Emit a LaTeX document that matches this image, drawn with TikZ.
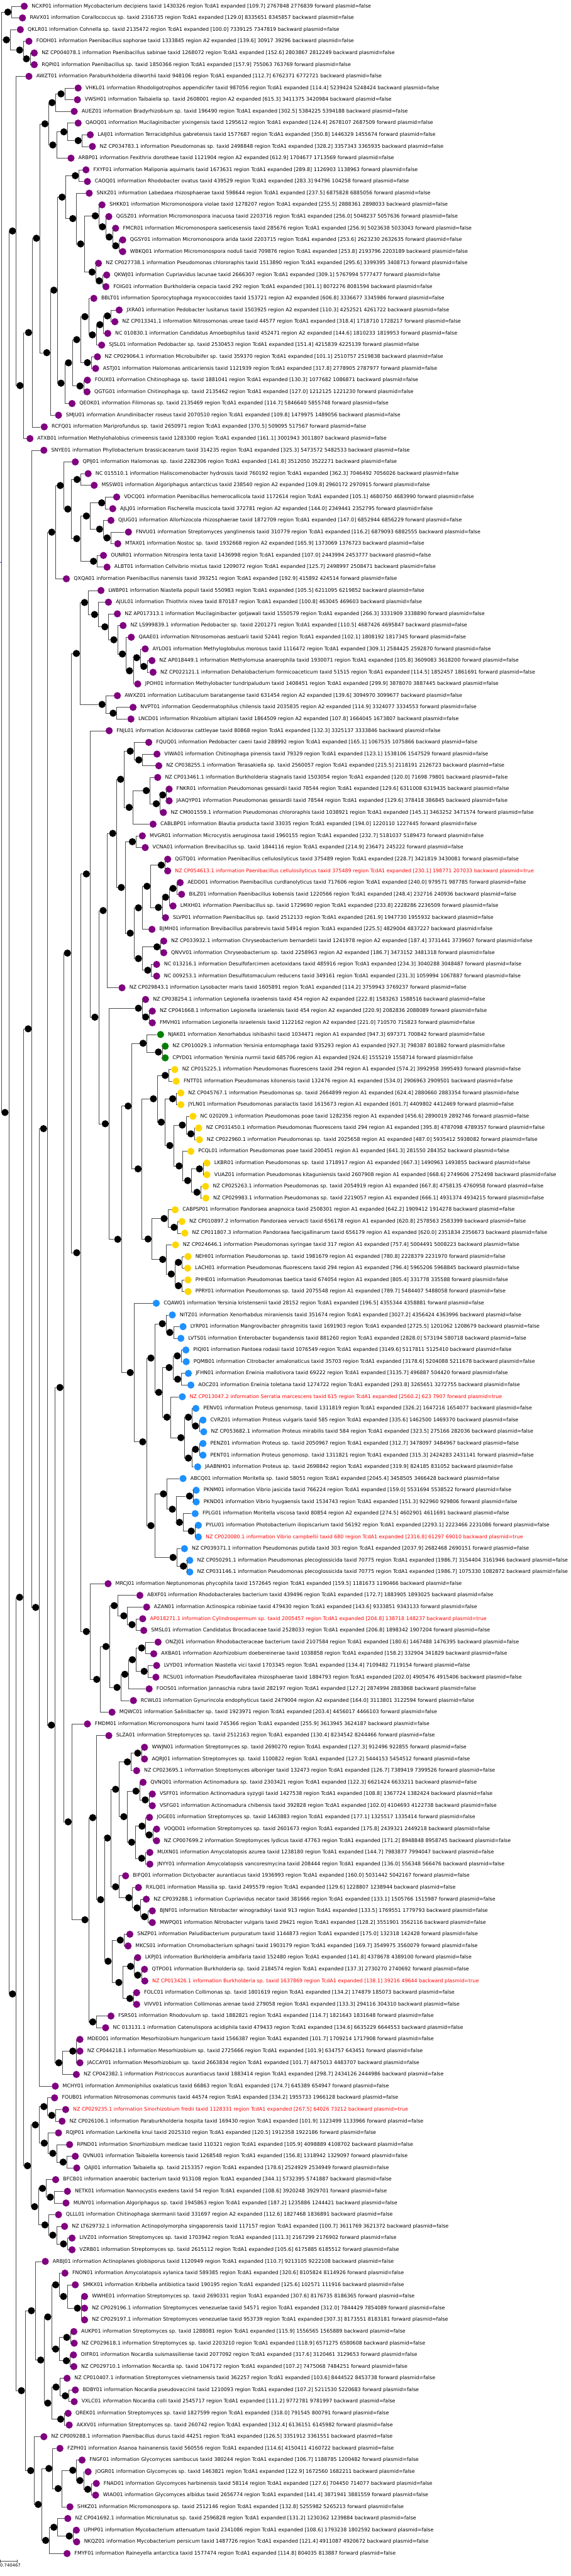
\documentclass[tikz,border=0pt]{standalone}
\usepackage{fontspec}
\setmainfont{DejaVu Sans}
\usepackage{tikz}
\usetikzlibrary{positioning}
\definecolor{cLeaf}{HTML}{800080}
\definecolor{cA1}{HTML}{008000}
\definecolor{cPseu}{HTML}{FFD700}
\definecolor{cTcd}{HTML}{1E90FF}
\definecolor{cPlas}{HTML}{FF0000}
\definecolor{cRoot}{HTML}{0030C1}
\definecolor{cBranch}{HTML}{4D4D4D}
\tikzset{
  leaf/.style={circle, fill=#1, inner sep=0pt, minimum size=10pt},
  leaf/.default=cLeaf,
  fork/.style={circle, fill=black, inner sep=0pt, minimum size=10pt},
  rootdot/.style={circle, fill=cRoot, inner sep=0pt, minimum size=1.5pt},
  lbl/.style={font=\fontsize{7}{8.4}\selectfont, inner sep=0pt, text=black},
  hot/.style={lbl, text=cPlas},
  scl/.style={font=\fontsize{6}{7}\selectfont, inner sep=0pt},
  br/.style={draw=cBranch, line width=0.5pt},
}
\begin{document}
\begin{tikzpicture}[x=0.5pt, y=-16.375pt]
  \useasboundingbox (0,0.4656) rectangle (1600,220.9237);
  \node[leaf] (l1) at (68,1) {};
  \node[lbl, right=5pt of l1] (t1) {NCXP01 information Mycobacterium decipiens taxid 1430326 region TcdA1 expanded [109.7] 2767848 2776839 forward plasmid=false};
  \node[leaf] (l2) at (63,2) {};
  \node[lbl, right=5pt of l2] (t2) {RAVX01 information Corallococcus sp. taxid 2316735 region TcdA1 expanded [129.0] 8335651 8345857 backward plasmid=false};
  \node[leaf] (l3) at (57,3) {};
  \node[lbl, right=5pt of l3] (t3) {QKLR01 information Cohnella sp. taxid 2135472 region TcdA1 expanded [100.0] 7339125 7347819 backward plasmid=false};
  \node[leaf] (l4) at (81,4) {};
  \node[lbl, right=5pt of l4] (t4) {FODH01 information Paenibacillus sophorae taxid 1333845 region A2 expanded [139.6] 30917 39296 backward plasmid=false};
  \node[leaf] (l5) at (96,5) {};
  \node[lbl, right=5pt of l5] (t5) {NZ CP004078.1 information Paenibacillus sabinae taxid 1268072 region TcdA1 expanded [152.6] 2803867 2812249 backward plasmid=false};
  \node[leaf] (l6) at (96,6) {};
  \node[lbl, right=5pt of l6] (t6) {RQPI01 information Paenibacillus sp. taxid 1850366 region TcdA1 expanded [157.9] 755063 763769 forward plasmid=false};
  \node[leaf] (l7) at (81,7) {};
  \node[lbl, right=5pt of l7] (t7) {AWZT01 information Paraburkholderia dilworthii taxid 948106 region TcdA1 expanded [112.7] 6762371 6772721 backward plasmid=false};
  \node[leaf] (l8) at (219,8) {};
  \node[lbl, right=5pt of l8] (t8) {VHKL01 information Rhodoligotrophos appendicifer taxid 987056 region TcdA1 expanded [114.4] 5239424 5248424 backward plasmid=false};
  \node[leaf] (l9) at (217,9) {};
  \node[lbl, right=5pt of l9] (t9) {VWSH01 information Taibaiella sp. taxid 2608001 region A2 expanded [615.3] 3411375 3420984 backward plasmid=false};
  \node[leaf] (l10) at (208,10) {};
  \node[lbl, right=5pt of l10] (t10) {AUEZ01 information Bradyrhizobium sp. taxid 196490 region TcdA1 expanded [302.5] 5384225 5394188 backward plasmid=false};
  \node[leaf] (l11) at (219,11) {};
  \node[lbl, right=5pt of l11] (t11) {QAOQ01 information Mucilaginibacter yixingensis taxid 1295612 region TcdA1 expanded [124.4] 2678107 2687509 forward plasmid=false};
  \node[leaf] (l12) at (253,12) {};
  \node[lbl, right=5pt of l12] (t12) {LAIJ01 information Terracidiphilus gabretensis taxid 1577687 region TcdA1 expanded [350.8] 1446329 1455674 forward plasmid=false};
  \node[leaf] (l13) at (259,13) {};
  \node[lbl, right=5pt of l13] (t13) {NZ CP034783.1 information Pseudomonas sp. taxid 2498848 region TcdA1 expanded [328.2] 3357343 3365935 backward plasmid=false};
  \node[leaf] (l14) at (199,14) {};
  \node[lbl, right=5pt of l14] (t14) {ARBP01 information Fexithrix dorotheae taxid 1121904 region A2 expanded [612.9] 1704677 1713569 forward plasmid=false};
  \node[leaf] (l15) at (241,15) {};
  \node[lbl, right=5pt of l15] (t15) {FXYF01 information Maliponia aquimaris taxid 1673631 region TcdA1 expanded [289.8] 1126903 1138963 forward plasmid=false};
  \node[leaf] (l16) at (245,16) {};
  \node[lbl, right=5pt of l16] (t16) {CAOQ01 information Rhodobacter ovatus taxid 439529 region TcdA1 expanded [283.3] 94796 104258 forward plasmid=false};
  \node[leaf] (l17) at (250,17) {};
  \node[lbl, right=5pt of l17] (t17) {SNXZ01 information Labedaea rhizosphaerae taxid 598644 region TcdA1 expanded [237.5] 6875828 6885056 forward plasmid=false};
  \node[leaf] (l18) at (286,18) {};
  \node[lbl, right=5pt of l18] (t18) {SHKK01 information Micromonospora violae taxid 1278207 region TcdA1 expanded [255.5] 2888361 2898033 backward plasmid=false};
  \node[leaf] (l19) at (305,19) {};
  \node[lbl, right=5pt of l19] (t19) {QGSZ01 information Micromonospora inacuosa taxid 2203716 region TcdA1 expanded [256.0] 5048237 5057636 forward plasmid=false};
  \node[leaf] (l20) at (324,20) {};
  \node[lbl, right=5pt of l20] (t20) {FMCR01 information Micromonospora saelicesensis taxid 285676 region TcdA1 expanded [256.9] 5023638 5033043 forward plasmid=false};
  \node[leaf] (l21) at (344,21) {};
  \node[lbl, right=5pt of l21] (t21) {QGSY01 information Micromonospora arida taxid 2203715 region TcdA1 expanded [253.6] 2623230 2632635 forward plasmid=false};
  \node[leaf] (l22) at (344,22) {};
  \node[lbl, right=5pt of l22] (t22) {WBKQ01 information Micromonospora noduli taxid 709876 region TcdA1 expanded [253.8] 2193796 2203189 backward plasmid=false};
  \node[leaf] (l23) at (276,23) {};
  \node[lbl, right=5pt of l23] (t23) {NZ CP027738.1 information Pseudomonas chlororaphis taxid 1513890 region TcdA1 expanded [295.6] 3399395 3408713 forward plasmid=false};
  \node[leaf] (l24) at (299,24) {};
  \node[lbl, right=5pt of l24] (t24) {QKWJ01 information Cupriavidus lacunae taxid 2666307 region TcdA1 expanded [309.1] 5767994 5777477 forward plasmid=false};
  \node[leaf] (l25) at (297,25) {};
  \node[lbl, right=5pt of l25] (t25) {FOIG01 information Burkholderia cepacia taxid 292 region TcdA1 expanded [301.1] 8072276 8081594 backward plasmid=false};
  \node[leaf] (l26) at (263,26) {};
  \node[lbl, right=5pt of l26] (t26) {BBLT01 information Sporocytophaga myxococcoides taxid 153721 region A2 expanded [606.8] 3336677 3345986 forward plasmid=false};
  \node[leaf] (l27) at (334,27) {};
  \node[lbl, right=5pt of l27] (t27) {JXRA01 information Pedobacter lusitanus taxid 1503925 region A2 expanded [110.3] 4252521 4261722 backward plasmid=false};
  \node[leaf] (l28) at (322,28) {};
  \node[lbl, right=5pt of l28] (t28) {NZ CP013341.1 information Nitrosomonas ureae taxid 44577 region TcdA1 expanded [318.4] 1718710 1728217 forward plasmid=false};
  \node[leaf] (l29) at (302,29) {};
  \node[lbl, right=5pt of l29] (t29) {NC 010830.1 information Candidatus Amoebophilus taxid 452471 region A2 expanded [144.6] 1810233 1819953 forward plasmid=false};
  \node[leaf] (l30) at (285,30) {};
  \node[lbl, right=5pt of l30] (t30) {SJSL01 information Pedobacter sp. taxid 2530453 region TcdA1 expanded [151.4] 4215839 4225139 forward plasmid=false};
  \node[leaf] (l31) at (273,31) {};
  \node[lbl, right=5pt of l31] (t31) {NZ CP029064.1 information Microbulbifer sp. taxid 359370 region TcdA1 expanded [101.1] 2510757 2519838 backward plasmid=false};
  \node[leaf] (l32) at (268,32) {};
  \node[lbl, right=5pt of l32] (t32) {ASTJ01 information Halomonas anticariensis taxid 1121939 region TcdA1 expanded [317.8] 2778905 2787977 forward plasmid=false};
  \node[leaf] (l33) at (245,33) {};
  \node[lbl, right=5pt of l33] (t33) {FOUX01 information Chitinophaga sp. taxid 1881041 region TcdA1 expanded [130.3] 1077682 1086871 backward plasmid=false};
  \node[leaf] (l34) at (244,34) {};
  \node[lbl, right=5pt of l34] (t34) {QGTG01 information Chitinophaga sp. taxid 2135462 region TcdA1 expanded [127.0] 1212125 1221230 forward plasmid=false};
  \node[leaf] (l35) at (202,35) {};
  \node[lbl, right=5pt of l35] (t35) {QEOK01 information Filimonas sp. taxid 2135469 region TcdA1 expanded [114.7] 5846640 5855748 forward plasmid=false};
  \node[leaf] (l36) at (164,36) {};
  \node[lbl, right=5pt of l36] (t36) {SMJU01 information Arundinibacter roseus taxid 2070510 region TcdA1 expanded [109.8] 1479975 1489056 backward plasmid=false};
  \node[leaf] (l37) at (124,37) {};
  \node[lbl, right=5pt of l37] (t37) {RCFQ01 information Mariprofundus sp. taxid 2650971 region TcdA1 expanded [370.5] 509095 517567 forward plasmid=false};
  \node[leaf] (l38) at (84,38) {};
  \node[lbl, right=5pt of l38] (t38) {ATXB01 information Methylohalobius crimeensis taxid 1283300 region TcdA1 expanded [161.1] 3001943 3011807 backward plasmid=false};
  \node[leaf] (l39) at (123,39) {};
  \node[lbl, right=5pt of l39] (t39) {SNYE01 information Phyllobacterium brassicacearum taxid 314235 region TcdA1 expanded [325.3] 5473572 5482533 backward plasmid=false};
  \node[leaf] (l40) at (211,40) {};
  \node[lbl, right=5pt of l40] (t40) {QPIJ01 information Halomonas sp. taxid 2282306 region TcdA1 expanded [141.8] 3512050 3522271 backward plasmid=false};
  \node[leaf] (l41) at (247,41) {};
  \node[lbl, right=5pt of l41] (t41) {NC 015510.1 information Haliscomenobacter hydrossis taxid 760192 region TcdA1 expanded [362.3] 7046492 7056026 backward plasmid=false};
  \node[leaf] (l42) at (264,42) {};
  \node[lbl, right=5pt of l42] (t42) {MSSW01 information Algoriphagus antarcticus taxid 238540 region A2 expanded [109.8] 2960172 2970915 forward plasmid=false};
  \node[leaf] (l43) at (327,43) {};
  \node[lbl, right=5pt of l43] (t43) {VDCQ01 information Paenibacillus hemerocallicola taxid 1172614 region TcdA1 expanded [105.1] 4680750 4683990 forward plasmid=false};
  \node[leaf] (l44) at (316,44) {};
  \node[lbl, right=5pt of l44] (t44) {AJLJ01 information Fischerella muscicola taxid 372781 region A2 expanded [144.0] 2349441 2352795 forward plasmid=false};
  \node[leaf] (l45) at (311,45) {};
  \node[lbl, right=5pt of l45] (t45) {QJUG01 information Allorhizocola rhizosphaerae taxid 1872709 region TcdA1 expanded [147.0] 6852944 6856229 forward plasmid=false};
  \node[leaf] (l46) at (360,46) {};
  \node[lbl, right=5pt of l46] (t46) {FNVU01 information Streptomyces yanglinensis taxid 310779 region TcdA1 expanded [116.2] 6879093 6882555 backward plasmid=false};
  \node[leaf] (l47) at (330,47) {};
  \node[lbl, right=5pt of l47] (t47) {MTAX01 information Nostoc sp. taxid 1932668 region A2 expanded [165.9] 1373069 1376723 backward plasmid=false};
  \node[leaf] (l48) at (290,48) {};
  \node[lbl, right=5pt of l48] (t48) {OUNR01 information Nitrospira lenta taxid 1436998 region TcdA1 expanded [107.0] 2443994 2453777 backward plasmid=false};
  \node[leaf] (l49) at (300,49) {};
  \node[lbl, right=5pt of l49] (t49) {ALBT01 information Cellvibrio mixtus taxid 1209072 region TcdA1 expanded [125.7] 2498997 2508471 backward plasmid=false};
  \node[leaf] (l50) at (186,50) {};
  \node[lbl, right=5pt of l50] (t50) {QXQA01 information Paenibacillus nanensis taxid 393251 region TcdA1 expanded [192.9] 415892 424514 forward plasmid=false};
  \node[leaf] (l51) at (283,51) {};
  \node[lbl, right=5pt of l51] (t51) {LWBP01 information Niastella populi taxid 550983 region TcdA1 expanded [105.5] 6211095 6219852 backward plasmid=false};
  \node[leaf] (l52) at (304,52) {};
  \node[lbl, right=5pt of l52] (t52) {AJUL01 information Thiothrix nivea taxid 870187 region TcdA1 expanded [100.8] 463045 469603 backward plasmid=false};
  \node[leaf] (l53) at (329,53) {};
  \node[lbl, right=5pt of l53] (t53) {NZ AP017313.1 information Mucilaginibacter gotjawali taxid 1550579 region TcdA1 expanded [266.3] 3331909 3338890 forward plasmid=false};
  \node[leaf] (l54) at (345,54) {};
  \node[lbl, right=5pt of l54] (t54) {NZ LS999839.1 information Pedobacter sp. taxid 2201271 region TcdA1 expanded [110.5] 4687426 4695847 backward plasmid=false};
  \node[leaf] (l55) at (368,55) {};
  \node[lbl, right=5pt of l55] (t55) {QAAE01 information Nitrosomonas aestuarii taxid 52441 region TcdA1 expanded [102.1] 1808192 1817345 forward plasmid=false};
  \node[leaf] (l56) at (407,56) {};
  \node[lbl, right=5pt of l56] (t56) {AYLO01 information Methyloglobulus morosus taxid 1116472 region TcdA1 expanded [309.1] 2584425 2592870 forward plasmid=false};
  \node[leaf] (l57) at (426,57) {};
  \node[lbl, right=5pt of l57] (t57) {NZ AP018449.1 information Methylomusa anaerophila taxid 1930071 region TcdA1 expanded [105.8] 3609083 3618200 forward plasmid=false};
  \node[leaf] (l58) at (429,58) {};
  \node[lbl, right=5pt of l58] (t58) {NZ CP022121.1 information Dehalobacterium formicoaceticum taxid 51515 region TcdA1 expanded [114.5] 1852457 1861691 forward plasmid=false};
  \node[leaf] (l59) at (386,59) {};
  \node[lbl, right=5pt of l59] (t59) {JPOH01 information Methylobacter tundripaludum taxid 1408451 region TcdA1 expanded [299.9] 3878070 3887445 backward plasmid=false};
  \node[leaf] (l60) at (329,60) {};
  \node[lbl, right=5pt of l60] (t60) {AWXZ01 information Lutibaculum baratangense taxid 631454 region A2 expanded [139.6] 3094970 3099677 backward plasmid=false};
  \node[leaf] (l61) at (373,61) {};
  \node[lbl, right=5pt of l61] (t61) {NVPT01 information Geodermatophilus chilensis taxid 2035835 region A2 expanded [114.9] 3324077 3334553 forward plasmid=false};
  \node[leaf] (l62) at (367,62) {};
  \node[lbl, right=5pt of l62] (t62) {LNCD01 information Rhizobium altiplani taxid 1864509 region A2 expanded [107.8] 1664045 1673807 backward plasmid=false};
  \node[leaf] (l63) at (306,63) {};
  \node[lbl, right=5pt of l63] (t63) {FNJL01 information Acidovorax cattleyae taxid 80868 region TcdA1 expanded [132.3] 3325137 3333846 backward plasmid=false};
  \node[leaf] (l64) at (417,64) {};
  \node[lbl, right=5pt of l64] (t64) {FQUQ01 information Pedobacter caeni taxid 288992 region TcdA1 expanded [165.1] 1067535 1075866 backward plasmid=false};
  \node[leaf] (l65) at (440,65) {};
  \node[lbl, right=5pt of l65] (t65) {VIWA01 information Chitinophaga pinensis taxid 79329 region TcdA1 expanded [123.1] 1538106 1547529 forward plasmid=false};
  \node[leaf] (l66) at (445,66) {};
  \node[lbl, right=5pt of l66] (t66) {NZ CP038255.1 information Terasakiella sp. taxid 2560057 region TcdA1 expanded [215.5] 2118191 2126723 backward plasmid=false};
  \node[leaf] (l67) at (442,67) {};
  \node[lbl, right=5pt of l67] (t67) {NZ CP013461.1 information Burkholderia stagnalis taxid 1503054 region TcdA1 expanded [120.0] 71698 79801 backward plasmid=false};
  \node[leaf] (l68) at (474,68) {};
  \node[lbl, right=5pt of l68] (t68) {FNKR01 information Pseudomonas gessardii taxid 78544 region TcdA1 expanded [129.6] 6311008 6319435 backward plasmid=false};
  \node[leaf] (l69) at (474,69) {};
  \node[lbl, right=5pt of l69] (t69) {JAAQYP01 information Pseudomonas gessardii taxid 78544 region TcdA1 expanded [129.6] 378418 386845 backward plasmid=false};
  \node[leaf] (l70) at (458,70) {};
  \node[lbl, right=5pt of l70] (t70) {NZ CM001559.1 information Pseudomonas chlororaphis taxid 1038921 region TcdA1 expanded [145.1] 3463252 3471574 forward plasmid=false};
  \node[leaf] (l71) at (429,71) {};
  \node[lbl, right=5pt of l71] (t71) {CABLBP01 information Blautia producta taxid 33035 region TcdA1 expanded [194.0] 1220110 1227445 forward plasmid=false};
  \node[leaf] (l72) at (399,72) {};
  \node[lbl, right=5pt of l72] (t72) {MVGR01 information Microcystis aeruginosa taxid 1960155 region TcdA1 expanded [232.7] 5181037 5189473 forward plasmid=false};
  \node[leaf] (l73) at (407,73) {};
  \node[lbl, right=5pt of l73] (t73) {VCNA01 information Brevibacillus sp. taxid 1844116 region TcdA1 expanded [214.9] 236471 245222 forward plasmid=false};
  \node[leaf] (l74) at (470,74) {};
  \node[lbl, right=5pt of l74] (t74) {QGTQ01 information Paenibacillus cellulosilyticus taxid 375489 region TcdA1 expanded [228.7] 3421819 3430081 forward plasmid=false};
  \node[leaf] (l75) at (470,75) {};
  \node[hot, right=5pt of l75] (t75) {NZ CP054613.1 information Paenibacillus cellulosilyticus taxid 375489 region TcdA1 expanded [230.1] 198771 207033 backward plasmid=true};
  \node[leaf] (l76) at (505,76) {};
  \node[lbl, right=5pt of l76] (t76) {AEDD01 information Paenibacillus curdlanolyticus taxid 717606 region TcdA1 expanded [240.0] 979571 987785 forward plasmid=false};
  \node[leaf] (l77) at (509,77) {};
  \node[lbl, right=5pt of l77] (t77) {BILZ01 information Paenibacillus kobensis taxid 1220566 region TcdA1 expanded [248.4] 232716 240936 backward plasmid=false};
  \node[leaf] (l78) at (485,78) {};
  \node[lbl, right=5pt of l78] (t78) {LMXH01 information Paenibacillus sp. taxid 1729690 region TcdA1 expanded [233.8] 2228286 2236509 forward plasmid=false};
  \node[leaf] (l79) at (464,79) {};
  \node[lbl, right=5pt of l79] (t79) {SLVP01 information Paenibacillus sp. taxid 2512133 region TcdA1 expanded [261.9] 1947730 1955932 backward plasmid=false};
  \node[leaf] (l80) at (426,80) {};
  \node[lbl, right=5pt of l80] (t80) {BJMH01 information Brevibacillus parabrevis taxid 54914 region TcdA1 expanded [225.5] 4829004 4837227 backward plasmid=false};
  \node[leaf] (l81) at (459,81) {};
  \node[lbl, right=5pt of l81] (t81) {NZ CP033932.1 information Chryseobacterium bernardetii taxid 1241978 region A2 expanded [187.4] 3731441 3739607 forward plasmid=false};
  \node[leaf] (l82) at (459,82) {};
  \node[lbl, right=5pt of l82] (t82) {QNVV01 information Chryseobacterium sp. taxid 2258963 region A2 expanded [186.7] 3473152 3481318 forward plasmid=false};
  \node[leaf] (l83) at (439,83) {};
  \node[lbl, right=5pt of l83] (t83) {NC 013216.1 information Desulfofarcimen acetoxidans taxid 485916 region TcdA1 expanded [234.3] 3040288 3048487 forward plasmid=false};
  \node[leaf] (l84) at (439,84) {};
  \node[lbl, right=5pt of l84] (t84) {NC 009253.1 information Desulfotomaculum reducens taxid 349161 region TcdA1 expanded [231.3] 1059994 1067887 forward plasmid=false};
  \node[leaf] (l85) at (342,85) {};
  \node[lbl, right=5pt of l85] (t85) {NZ CP029843.1 information Lysobacter maris taxid 1605891 region TcdA1 expanded [114.2] 3759943 3769237 forward plasmid=false};
  \node[leaf] (l86) at (408,86) {};
  \node[lbl, right=5pt of l86] (t86) {NZ CP038254.1 information Legionella israelensis taxid 454 region A2 expanded [222.8] 1583263 1588516 backward plasmid=false};
  \node[leaf] (l87) at (427,87) {};
  \node[lbl, right=5pt of l87] (t87) {NZ CP041668.1 information Legionella israelensis taxid 454 region A2 expanded [220.9] 2082836 2088089 forward plasmid=false};
  \node[leaf] (l88) at (427,88) {};
  \node[lbl, right=5pt of l88] (t88) {FMVH01 information Legionella israelensis taxid 1122162 region A2 expanded [221.0] 710570 715823 forward plasmid=false};
  \node[leaf=cA1] (l89) at (450,89) {};
  \node[lbl, right=5pt of l89] (t89) {NJAK01 information Xenorhabdus ishibashii taxid 1034471 region A1 expanded [947.3] 697371 700842 forward plasmid=false};
  \node[leaf=cA1] (l90) at (463,90) {};
  \node[lbl, right=5pt of l90] (t90) {NZ CP010029.1 information Yersinia entomophaga taxid 935293 region A1 expanded [927.3] 798387 801882 forward plasmid=false};
  \node[leaf=cA1] (l91) at (463,91) {};
  \node[lbl, right=5pt of l91] (t91) {CPYD01 information Yersinia nurmii taxid 685706 region A1 expanded [924.6] 1555219 1558714 forward plasmid=false};
  \node[leaf=cPseu] (l92) at (490,92) {};
  \node[lbl, right=5pt of l92] (t92) {NZ CP015225.1 information Pseudomonas fluorescens taxid 294 region A1 expanded [574.2] 3992958 3995493 forward plasmid=false};
  \node[leaf=cPseu] (l93) at (494,93) {};
  \node[lbl, right=5pt of l93] (t93) {FNTT01 information Pseudomonas kilonensis taxid 132476 region A1 expanded [534.0] 2906963 2909501 backward plasmid=false};
  \node[leaf=cPseu] (l94) at (507,94) {};
  \node[lbl, right=5pt of l94] (t94) {NZ CP045767.1 information Pseudomonas sp. taxid 2664899 region A1 expanded [624.4] 2880660 2883354 forward plasmid=false};
  \node[leaf=cPseu] (l95) at (507,95) {};
  \node[lbl, right=5pt of l95] (t95) {JYLN01 information Pseudomonas paralactis taxid 1615673 region A1 expanded [601.7] 4409802 4412469 forward plasmid=false};
  \node[leaf=cPseu] (l96) at (541,96) {};
  \node[lbl, right=5pt of l96] (t96) {NC 020209.1 information Pseudomonas poae taxid 1282356 region A1 expanded [456.6] 2890019 2892746 forward plasmid=false};
  \node[leaf=cPseu] (l97) at (557,97) {};
  \node[lbl, right=5pt of l97] (t97) {NZ CP031450.1 information Pseudomonas fluorescens taxid 294 region A1 expanded [395.8] 4787098 4789357 forward plasmid=false};
  \node[leaf=cPseu] (l98) at (559,98) {};
  \node[lbl, right=5pt of l98] (t98) {NZ CP022960.1 information Pseudomonas sp. taxid 2025658 region A1 expanded [487.0] 5935412 5938082 forward plasmid=false};
  \node[leaf=cPseu] (l99) at (535,99) {};
  \node[lbl, right=5pt of l99] (t99) {PCQL01 information Pseudomonas poae taxid 200451 region A1 expanded [641.3] 281550 284352 backward plasmid=false};
  \node[leaf=cPseu] (l100) at (580,100) {};
  \node[lbl, right=5pt of l100] (t100) {LKBR01 information Pseudomonas sp. taxid 1718917 region A1 expanded [667.3] 1490963 1493855 backward plasmid=false};
  \node[leaf=cPseu] (l101) at (580,101) {};
  \node[lbl, right=5pt of l101] (t101) {VUAZ01 information Pseudomonas kitaguniensis taxid 2607908 region A1 expanded [668.6] 2749606 2752498 backward plasmid=false};
  \node[leaf=cPseu] (l102) at (576,102) {};
  \node[lbl, right=5pt of l102] (t102) {NZ CP025263.1 information Pseudomonas sp. taxid 2054919 region A1 expanded [667.8] 4758135 4760958 forward plasmid=false};
  \node[leaf=cPseu] (l103) at (577,103) {};
  \node[lbl, right=5pt of l103] (t103) {NZ CP029983.1 information Pseudomonas sp. taxid 2219057 region A1 expanded [666.1] 4931374 4934215 forward plasmid=false};
  \node[leaf=cPseu] (l104) at (491,104) {};
  \node[lbl, right=5pt of l104] (t104) {CABPSP01 information Pandoraea anapnoica taxid 2508301 region A1 expanded [642.2] 1909412 1914278 backward plasmid=false};
  \node[leaf=cPseu] (l105) at (510,105) {};
  \node[lbl, right=5pt of l105] (t105) {NZ CP010897.2 information Pandoraea vervacti taxid 656178 region A1 expanded [620.8] 2578563 2583399 backward plasmid=false};
  \node[leaf=cPseu] (l106) at (518,106) {};
  \node[lbl, right=5pt of l106] (t106) {NZ CP011807.3 information Pandoraea faecigallinarum taxid 656179 region A1 expanded [620.0] 2351834 2356673 backward plasmid=false};
  \node[leaf=cPseu] (l107) at (492,107) {};
  \node[lbl, right=5pt of l107] (t107) {NZ CP024646.1 information Pseudomonas syringae taxid 317 region A1 expanded [757.4] 5004491 5008223 backward plasmid=false};
  \node[leaf=cPseu] (l108) at (527,108) {};
  \node[lbl, right=5pt of l108] (t108) {NEHI01 information Pseudomonas sp. taxid 1981679 region A1 expanded [780.8] 2228379 2231970 forward plasmid=false};
  \node[leaf=cPseu] (l109) at (526,109) {};
  \node[lbl, right=5pt of l109] (t109) {LACH01 information Pseudomonas fluorescens taxid 294 region A1 expanded [796.4] 5965206 5968845 backward plasmid=false};
  \node[leaf=cPseu] (l110) at (527,110) {};
  \node[lbl, right=5pt of l110] (t110) {PHHE01 information Pseudomonas baetica taxid 674054 region A1 expanded [805.4] 331778 335588 forward plasmid=false};
  \node[leaf=cPseu] (l111) at (527,111) {};
  \node[lbl, right=5pt of l111] (t111) {PPRY01 information Pseudomonas sp. taxid 2075548 region A1 expanded [789.7] 5484407 5488058 forward plasmid=false};
  \node[leaf=cTcd] (l112) at (438,112) {};
  \node[lbl, right=5pt of l112] (t112) {CQAW01 information Yersinia kristensenii taxid 28152 region TcdA1 expanded [196.5] 4355344 4358881 forward plasmid=false};
  \node[leaf=cTcd] (l113) at (483,113) {};
  \node[lbl, right=5pt of l113] (t113) {NITZ01 information Xenorhabdus miraniensis taxid 351674 region TcdA1 expanded [3027.2] 4356424 4363996 backward plasmid=false};
  \node[leaf=cTcd] (l114) at (513,114) {};
  \node[lbl, right=5pt of l114] (t114) {LYRP01 information Mangrovibacter phragmitis taxid 1691903 region TcdA1 expanded [2725.5] 1201062 1208679 backward plasmid=false};
  \node[leaf=cTcd] (l115) at (507,115) {};
  \node[lbl, right=5pt of l115] (t115) {LVTS01 information Enterobacter bugandensis taxid 881260 region TcdA1 expanded [2828.0] 573194 580718 backward plasmid=false};
  \node[leaf=cTcd] (l116) at (521,116) {};
  \node[lbl, right=5pt of l116] (t116) {PIQI01 information Pantoea rodasii taxid 1076549 region TcdA1 expanded [3149.6] 5117811 5125410 backward plasmid=false};
  \node[leaf=cTcd] (l117) at (522,117) {};
  \node[lbl, right=5pt of l117] (t117) {PQMB01 information Citrobacter amalonaticus taxid 35703 region TcdA1 expanded [3178.6] 5204088 5211678 backward plasmid=false};
  \node[leaf=cTcd] (l118) at (528,118) {};
  \node[lbl, right=5pt of l118] (t118) {JFHN01 information Erwinia mallotivora taxid 69222 region TcdA1 expanded [3135.7] 496887 504420 forward plasmid=false};
  \node[leaf=cTcd] (l119) at (535,119) {};
  \node[lbl, right=5pt of l119] (t119) {AOCZ01 information Erwinia toletana taxid 1274722 region TcdA1 expanded [293.8] 3265651 3272755 backward plasmid=false};
  \node[leaf=cTcd] (l120) at (511,120) {};
  \node[hot, right=5pt of l120] (t120) {NZ CP013047.2 information Serratia marcescens taxid 615 region TcdA1 expanded [2560.2] 623 7907 forward plasmid=true};
  \node[leaf=cTcd] (l121) at (549,121) {};
  \node[lbl, right=5pt of l121] (t121) {PENV01 information Proteus genomosp. taxid 1311819 region TcdA1 expanded [326.2] 1647216 1654077 backward plasmid=false};
  \node[leaf=cTcd] (l122) at (569,122) {};
  \node[lbl, right=5pt of l122] (t122) {CVRZ01 information Proteus vulgaris taxid 585 region TcdA1 expanded [335.6] 1462500 1469370 backward plasmid=false};
  \node[leaf=cTcd] (l123) at (571,123) {};
  \node[lbl, right=5pt of l123] (t123) {NZ CP053682.1 information Proteus mirabilis taxid 584 region TcdA1 expanded [323.5] 275166 282036 backward plasmid=false};
  \node[leaf=cTcd] (l124) at (569,124) {};
  \node[lbl, right=5pt of l124] (t124) {PENZ01 information Proteus sp. taxid 2050967 region TcdA1 expanded [312.7] 3478097 3484967 backward plasmid=false};
  \node[leaf=cTcd] (l125) at (569,125) {};
  \node[lbl, right=5pt of l125] (t125) {PENT01 information Proteus genomosp. taxid 1311821 region TcdA1 expanded [315.3] 2424283 2431141 forward plasmid=false};
  \node[leaf=cTcd] (l126) at (554,126) {};
  \node[lbl, right=5pt of l126] (t126) {JAABNH01 information Proteus sp. taxid 2698842 region TcdA1 expanded [319.9] 824185 831052 backward plasmid=false};
  \node[leaf=cTcd] (l127) at (513,127) {};
  \node[lbl, right=5pt of l127] (t127) {ABCQ01 information Moritella sp. taxid 58051 region TcdA1 expanded [2045.4] 3458505 3466428 backward plasmid=false};
  \node[leaf=cTcd] (l128) at (550,128) {};
  \node[lbl, right=5pt of l128] (t128) {PKNM01 information Vibrio jasicida taxid 766224 region TcdA1 expanded [159.0] 5531694 5538522 forward plasmid=false};
  \node[leaf=cTcd] (l129) at (550,129) {};
  \node[lbl, right=5pt of l129] (t129) {PKND01 information Vibrio hyugaensis taxid 1534743 region TcdA1 expanded [151.3] 922960 929806 forward plasmid=false};
  \node[leaf=cTcd] (l130) at (547,130) {};
  \node[lbl, right=5pt of l130] (t130) {FPLG01 information Moritella viscosa taxid 80854 region A2 expanded [274.5] 4602901 4611691 backward plasmid=false};
  \node[leaf=cTcd] (l131) at (556,131) {};
  \node[lbl, right=5pt of l131] (t131) {PYLU01 information Photobacterium iliopiscarium taxid 56192 region TcdA1 expanded [2293.1] 2223466 2231086 forward plasmid=false};
  \node[leaf=cTcd] (l132) at (556,132) {};
  \node[hot, right=5pt of l132] (t132) {NZ CP020080.1 information Vibrio campbellii taxid 680 region TcdA1 expanded [2316.8] 61297 69010 backward plasmid=true};
  \node[leaf=cTcd] (l133) at (517,133) {};
  \node[lbl, right=5pt of l133] (t133) {NZ CP039371.1 information Pseudomonas putida taxid 303 region TcdA1 expanded [2037.9] 2682468 2690151 forward plasmid=false};
  \node[leaf=cTcd] (l134) at (532,134) {};
  \node[lbl, right=5pt of l134] (t134) {NZ CP050291.1 information Pseudomonas plecoglossicida taxid 70775 region TcdA1 expanded [1986.7] 3154404 3161946 backward plasmid=false};
  \node[leaf=cTcd] (l135) at (532,135) {};
  \node[lbl, right=5pt of l135] (t135) {NZ CP031146.1 information Pseudomonas plecoglossicida taxid 70775 region TcdA1 expanded [1986.7] 1075330 1082872 backward plasmid=false};
  \node[leaf] (l136) at (303,136) {};
  \node[lbl, right=5pt of l136] (t136) {MRCJ01 information Neptunomonas phycophila taxid 1572645 region TcdA1 expanded [159.5] 1181673 1190466 backward plasmid=false};
  \node[leaf] (l137) at (392,137) {};
  \node[lbl, right=5pt of l137] (t137) {ABXF01 information Rhodobacterales bacterium taxid 439496 region TcdA1 expanded [172.7] 1883905 1893025 backward plasmid=false};
  \node[leaf] (l138) at (411,138) {};
  \node[lbl, right=5pt of l138] (t138) {AZAN01 information Actinospica robiniae taxid 479430 region TcdA1 expanded [143.6] 9333851 9343133 forward plasmid=false};
  \node[leaf] (l139) at (400,139) {};
  \node[hot, right=5pt of l139] (t139) {AP018271.1 information Cylindrospermum sp. taxid 2005457 region TcdA1 expanded [204.8] 138718 148237 backward plasmid=true};
  \node[leaf] (l140) at (403,140) {};
  \node[lbl, right=5pt of l140] (t140) {SMSL01 information Candidatus Brocadiaceae taxid 2528033 region TcdA1 expanded [206.8] 1898342 1907204 forward plasmid=false};
  \node[leaf] (l141) at (443,141) {};
  \node[lbl, right=5pt of l141] (t141) {ONZJ01 information Rhodobacteraceae bacterium taxid 2107584 region TcdA1 expanded [180.6] 1467488 1476395 backward plasmid=false};
  \node[leaf] (l142) at (431,142) {};
  \node[lbl, right=5pt of l142] (t142) {AXBA01 information Azorhizobium doebereinerae taxid 1038858 region TcdA1 expanded [158.2] 332904 341829 backward plasmid=false};
  \node[leaf] (l143) at (439,143) {};
  \node[lbl, right=5pt of l143] (t143) {LVYD01 information Niastella vici taxid 1703345 region TcdA1 expanded [134.4] 7109482 7119154 forward plasmid=false};
  \node[leaf] (l144) at (437,144) {};
  \node[lbl, right=5pt of l144] (t144) {RCSU01 information Pseudoflavitalea rhizosphaerae taxid 1884793 region TcdA1 expanded [202.0] 4905476 4915406 backward plasmid=false};
  \node[leaf] (l145) at (418,145) {};
  \node[lbl, right=5pt of l145] (t145) {FOOS01 information Jannaschia rubra taxid 282197 region TcdA1 expanded [127.2] 2874994 2883868 backward plasmid=false};
  \node[leaf] (l146) at (374,146) {};
  \node[lbl, right=5pt of l146] (t146) {RCWL01 information Gynurincola endophyticus taxid 2479004 region A2 expanded [164.0] 3113801 3122594 forward plasmid=false};
  \node[leaf] (l147) at (314,147) {};
  \node[lbl, right=5pt of l147] (t147) {MQWC01 information Salinibacter sp. taxid 1923971 region TcdA1 expanded [203.4] 4456017 4466103 forward plasmid=false};
  \node[leaf] (l148) at (245,148) {};
  \node[lbl, right=5pt of l148] (t148) {FMDM01 information Micromonospora humi taxid 745366 region TcdA1 expanded [255.9] 3613945 3624187 backward plasmid=false};
  \node[leaf] (l149) at (305,149) {};
  \node[lbl, right=5pt of l149] (t149) {SLZA01 information Streptomyces sp. taxid 2512163 region TcdA1 expanded [130.4] 8234542 8244466 forward plasmid=false};
  \node[leaf] (l150) at (405,150) {};
  \node[lbl, right=5pt of l150] (t150) {WWJN01 information Streptomyces sp. taxid 2690270 region TcdA1 expanded [127.3] 912496 922855 forward plasmid=false};
  \node[leaf] (l151) at (405,151) {};
  \node[lbl, right=5pt of l151] (t151) {AQRJ01 information Streptomyces sp. taxid 1100822 region TcdA1 expanded [127.2] 5444153 5454512 forward plasmid=false};
  \node[leaf] (l152) at (383,152) {};
  \node[lbl, right=5pt of l152] (t152) {NZ CP023695.1 information Streptomyces alboniger taxid 132473 region TcdA1 expanded [126.7] 7389419 7399526 forward plasmid=false};
  \node[leaf] (l153) at (401,153) {};
  \node[lbl, right=5pt of l153] (t153) {QVNQ01 information Actinomadura sp. taxid 2303421 region TcdA1 expanded [122.3] 6621424 6633211 backward plasmid=false};
  \node[leaf] (l154) at (427,154) {};
  \node[lbl, right=5pt of l154] (t154) {VSFF01 information Actinomadura syzygii taxid 1427538 region TcdA1 expanded [108.8] 1367724 1382424 backward plasmid=false};
  \node[leaf] (l155) at (427,155) {};
  \node[lbl, right=5pt of l155] (t155) {VSFG01 information Actinomadura chibensis taxid 392828 region TcdA1 expanded [102.0] 4104693 4122738 backward plasmid=false};
  \node[leaf] (l156) at (419,156) {};
  \node[lbl, right=5pt of l156] (t156) {JOGE01 information Streptomyces sp. taxid 1463883 region TcdA1 expanded [177.1] 1325517 1335414 forward plasmid=false};
  \node[leaf] (l157) at (439,157) {};
  \node[lbl, right=5pt of l157] (t157) {VOQD01 information Streptomyces sp. taxid 2601673 region TcdA1 expanded [175.8] 2439321 2449218 backward plasmid=false};
  \node[leaf] (l158) at (439,158) {};
  \node[lbl, right=5pt of l158] (t158) {NZ CP007699.2 information Streptomyces lydicus taxid 47763 region TcdA1 expanded [171.2] 8948848 8958745 backward plasmid=false};
  \node[leaf] (l159) at (420,159) {};
  \node[lbl, right=5pt of l159] (t159) {MUXN01 information Amycolatopsis azurea taxid 1238180 region TcdA1 expanded [144.7] 7983877 7994047 backward plasmid=false};
  \node[leaf] (l160) at (420,160) {};
  \node[lbl, right=5pt of l160] (t160) {JNYY01 information Amycolatopsis vancoresmycina taxid 208444 region TcdA1 expanded [136.0] 556348 566476 backward plasmid=false};
  \node[leaf] (l161) at (352,161) {};
  \node[lbl, right=5pt of l161] (t161) {BIFQ01 information Dictyobacter aurantiacus taxid 1936993 region TcdA1 expanded [160.0] 5031442 5042167 forward plasmid=false};
  \node[leaf] (l162) at (388,162) {};
  \node[lbl, right=5pt of l162] (t162) {RXLQ01 information Massilia sp. taxid 2495579 region TcdA1 expanded [129.6] 1228807 1238944 backward plasmid=false};
  \node[leaf] (l163) at (410,163) {};
  \node[lbl, right=5pt of l163] (t163) {NZ CP039288.1 information Cupriavidus necator taxid 381666 region TcdA1 expanded [133.1] 1505766 1515987 forward plasmid=false};
  \node[leaf] (l164) at (427,164) {};
  \node[lbl, right=5pt of l164] (t164) {BJNF01 information Nitrobacter winogradskyi taxid 913 region TcdA1 expanded [133.5] 1769551 1779793 backward plasmid=false};
  \node[leaf] (l165) at (427,165) {};
  \node[lbl, right=5pt of l165] (t165) {MWPQ01 information Nitrobacter vulgaris taxid 29421 region TcdA1 expanded [128.2] 3551901 3562116 backward plasmid=false};
  \node[leaf] (l166) at (364,166) {};
  \node[lbl, right=5pt of l166] (t166) {SNZP01 information Paludibacterium purpuratum taxid 1144873 region TcdA1 expanded [175.0] 132318 142428 forward plasmid=false};
  \node[leaf] (l167) at (359,167) {};
  \node[lbl, right=5pt of l167] (t167) {MKCS01 information Chromobacterium sphagni taxid 1903179 region TcdA1 expanded [169.7] 3549975 3560079 forward plasmid=false};
  \node[leaf] (l168) at (386,168) {};
  \node[lbl, right=5pt of l168] (t168) {LKPJ01 information Burkholderia ambifaria taxid 152480 region TcdA1 expanded [141.8] 4378678 4389100 forward plasmid=false};
  \node[leaf] (l169) at (405,169) {};
  \node[lbl, right=5pt of l169] (t169) {QTPO01 information Burkholderia sp. taxid 2184574 region TcdA1 expanded [137.3] 2730270 2740692 forward plasmid=false};
  \node[leaf] (l170) at (406,170) {};
  \node[hot, right=5pt of l170] (t170) {NZ CP013426.1 information Burkholderia sp. taxid 1637869 region TcdA1 expanded [138.1] 39216 49644 backward plasmid=true};
  \node[leaf] (l171) at (383,171) {};
  \node[lbl, right=5pt of l171] (t171) {FOLC01 information Collimonas sp. taxid 1801619 region TcdA1 expanded [134.2] 174879 185073 backward plasmid=false};
  \node[leaf] (l172) at (383,172) {};
  \node[lbl, right=5pt of l172] (t172) {VIVV01 information Collimonas arenae taxid 279058 region TcdA1 expanded [133.3] 294116 304310 backward plasmid=false};
  \node[leaf] (l173) at (311,173) {};
  \node[lbl, right=5pt of l173] (t173) {FSRS01 information Rhodovulum sp. taxid 1882821 region TcdA1 expanded [114.7] 1821643 1831648 forward plasmid=false};
  \node[leaf] (l174) at (296,174) {};
  \node[lbl, right=5pt of l174] (t174) {NC 013131.1 information Catenulispora acidiphila taxid 479433 region TcdA1 expanded [134.6] 6635229 6644553 backward plasmid=false};
  \node[leaf] (l175) at (224,175) {};
  \node[lbl, right=5pt of l175] (t175) {MDEO01 information Mesorhizobium hungaricum taxid 1566387 region TcdA1 expanded [101.7] 1709214 1717908 forward plasmid=false};
  \node[leaf] (l176) at (224,176) {};
  \node[lbl, right=5pt of l176] (t176) {NZ CP044218.1 information Mesorhizobium sp. taxid 2725666 region TcdA1 expanded [101.9] 634757 643451 forward plasmid=false};
  \node[leaf] (l177) at (224,177) {};
  \node[lbl, right=5pt of l177] (t177) {JACCAY01 information Mesorhizobium sp. taxid 2663834 region TcdA1 expanded [101.7] 4475013 4483707 backward plasmid=false};
  \node[leaf] (l178) at (214,178) {};
  \node[lbl, right=5pt of l178] (t178) {NZ CP042382.1 information Pistricoccus aurantiacus taxid 1883414 region TcdA1 expanded [298.7] 2434126 2444986 backward plasmid=false};
  \node[leaf] (l179) at (155,179) {};
  \node[lbl, right=5pt of l179] (t179) {MCHY01 information Ammoniphilus oxalaticus taxid 66863 region TcdA1 expanded [174.7] 645389 654947 forward plasmid=false};
  \node[leaf] (l180) at (153,180) {};
  \node[lbl, right=5pt of l180] (t180) {FOUB01 information Nitrosomonas communis taxid 44574 region TcdA1 expanded [334.2] 1955733 1966128 backward plasmid=false};
  \node[leaf] (l181) at (184,181) {};
  \node[hot, right=5pt of l181] (t181) {NZ CP029235.1 information Sinorhizobium fredii taxid 1128331 region TcdA1 expanded [267.5] 64026 73212 backward plasmid=true};
  \node[leaf] (l182) at (174,182) {};
  \node[lbl, right=5pt of l182] (t182) {NZ CP026106.1 information Paraburkholderia hospita taxid 169430 region TcdA1 expanded [101.9] 1123499 1133966 forward plasmid=false};
  \node[leaf] (l183) at (164,183) {};
  \node[lbl, right=5pt of l183] (t183) {RQJP01 information Larkinella knui taxid 2025310 region TcdA1 expanded [120.5] 1912358 1922186 forward plasmid=false};
  \node[leaf] (l184) at (195,184) {};
  \node[lbl, right=5pt of l184] (t184) {RPND01 information Sinorhizobium medicae taxid 110321 region TcdA1 expanded [105.9] 4098889 4108702 backward plasmid=false};
  \node[leaf] (l185) at (211,185) {};
  \node[lbl, right=5pt of l185] (t185) {QVNU01 information Taibaiella koreensis taxid 1268548 region TcdA1 expanded [156.8] 1318942 1329097 forward plasmid=false};
  \node[leaf] (l186) at (215,186) {};
  \node[lbl, right=5pt of l186] (t186) {QAJI01 information Taibaiella sp. taxid 2153357 region TcdA1 expanded [178.6] 2524929 2534949 forward plasmid=false};
  \node[leaf] (l187) at (156,187) {};
  \node[lbl, right=5pt of l187] (t187) {BFCB01 information anaerobic bacterium taxid 913108 region TcdA1 expanded [344.1] 5732395 5741887 backward plasmid=false};
  \node[leaf] (l188) at (189,188) {};
  \node[lbl, right=5pt of l188] (t188) {NETK01 information Nannocystis exedens taxid 54 region TcdA1 expanded [108.6] 3920248 3929701 forward plasmid=false};
  \node[leaf] (l189) at (185,189) {};
  \node[lbl, right=5pt of l189] (t189) {MUNY01 information Algoriphagus sp. taxid 1945863 region TcdA1 expanded [187.2] 1235886 1244421 backward plasmid=false};
  \node[leaf] (l190) at (164,190) {};
  \node[lbl, right=5pt of l190] (t190) {QLLL01 information Chitinophaga skermanii taxid 331697 region A2 expanded [112.6] 1827468 1836891 backward plasmid=false};
  \node[leaf] (l191) at (181,191) {};
  \node[lbl, right=5pt of l191] (t191) {NZ LT629732.1 information Actinopolymorpha singaporensis taxid 117157 region TcdA1 expanded [100.7] 3611769 3621372 backward plasmid=false};
  \node[leaf] (l192) at (202,192) {};
  \node[lbl, right=5pt of l192] (t192) {LIVZ01 information Streptomyces sp. taxid 1703942 region TcdA1 expanded [111.3] 2167299 2176902 forward plasmid=false};
  \node[leaf] (l193) at (202,193) {};
  \node[lbl, right=5pt of l193] (t193) {VZRB01 information Streptomyces sp. taxid 2615112 region TcdA1 expanded [105.6] 6175885 6185512 forward plasmid=false};
  \node[leaf] (l194) at (127,194) {};
  \node[lbl, right=5pt of l194] (t194) {ARBJ01 information Actinoplanes globisporus taxid 1120949 region TcdA1 expanded [110.7] 9213105 9222108 backward plasmid=false};
  \node[leaf] (l195) at (182,195) {};
  \node[lbl, right=5pt of l195] (t195) {FNON01 information Amycolatopsis xylanica taxid 589385 region TcdA1 expanded [320.6] 8105824 8114926 forward plasmid=false};
  \node[leaf] (l196) at (211,196) {};
  \node[lbl, right=5pt of l196] (t196) {SMKX01 information Kribbella antibiotica taxid 190195 region TcdA1 expanded [125.6] 102571 111916 backward plasmid=false};
  \node[leaf] (l197) at (237,197) {};
  \node[lbl, right=5pt of l197] (t197) {WWHE01 information Streptomyces sp. taxid 2690331 region TcdA1 expanded [307.6] 8176735 8186365 forward plasmid=false};
  \node[leaf] (l198) at (237,198) {};
  \node[lbl, right=5pt of l198] (t198) {NZ CP029196.1 information Streptomyces venezuelae taxid 54571 region TcdA1 expanded [312.0] 7844429 7854089 forward plasmid=false};
  \node[leaf] (l199) at (237,199) {};
  \node[lbl, right=5pt of l199] (t199) {NZ CP029197.1 information Streptomyces venezuelae taxid 953739 region TcdA1 expanded [307.3] 8173551 8183181 forward plasmid=false};
  \node[leaf] (l200) at (207,200) {};
  \node[lbl, right=5pt of l200] (t200) {AUKP01 information Streptomyces sp. taxid 1288081 region TcdA1 expanded [115.9] 1556565 1565889 backward plasmid=false};
  \node[leaf] (l201) at (208,201) {};
  \node[lbl, right=5pt of l201] (t201) {NZ CP029618.1 information Streptomyces sp. taxid 2203210 region TcdA1 expanded [118.9] 6571275 6580608 backward plasmid=false};
  \node[leaf] (l202) at (206,202) {};
  \node[lbl, right=5pt of l202] (t202) {OIFR01 information Nocardia suismassiliense taxid 2077092 region TcdA1 expanded [317.6] 3120461 3129653 forward plasmid=false};
  \node[leaf] (l203) at (207,203) {};
  \node[lbl, right=5pt of l203] (t203) {NZ CP029710.1 information Nocardia sp. taxid 1047172 region TcdA1 expanded [107.2] 7475068 7484251 forward plasmid=false};
  \node[leaf] (l204) at (188,204) {};
  \node[lbl, right=5pt of l204] (t204) {NZ CP010407.1 information Streptomyces vietnamensis taxid 362257 region TcdA1 expanded [103.6] 8444522 8453738 forward plasmid=false};
  \node[leaf] (l205) at (211,205) {};
  \node[lbl, right=5pt of l205] (t205) {BDBY01 information Nocardia pseudovaccinii taxid 1210093 region TcdA1 expanded [107.2] 5211530 5220683 forward plasmid=false};
  \node[leaf] (l206) at (208,206) {};
  \node[lbl, right=5pt of l206] (t206) {VXLC01 information Nocardia colli taxid 2545717 region TcdA1 expanded [111.2] 9772781 9781997 backward plasmid=false};
  \node[leaf] (l207) at (191,207) {};
  \node[lbl, right=5pt of l207] (t207) {QREK01 information Streptomyces sp. taxid 1827599 region TcdA1 expanded [318.0] 791545 800791 forward plasmid=false};
  \node[leaf] (l208) at (194,208) {};
  \node[lbl, right=5pt of l208] (t208) {AKXV01 information Streptomyces sp. taxid 260742 region TcdA1 expanded [312.4] 6136151 6145982 forward plasmid=false};
  \node[leaf] (l209) at (123,209) {};
  \node[lbl, right=5pt of l209] (t209) {NZ CP009288.1 information Paenibacillus durus taxid 44251 region TcdA1 expanded [126.5] 3351912 3361551 backward plasmid=false};
  \node[leaf] (l210) at (168,210) {};
  \node[lbl, right=5pt of l210] (t210) {FZPH01 information Asanoa hainanensis taxid 560556 region TcdA1 expanded [114.6] 4150411 4160722 backward plasmid=false};
  \node[leaf] (l211) at (230,211) {};
  \node[lbl, right=5pt of l211] (t211) {FNGF01 information Glycomyces sambucus taxid 380244 region TcdA1 expanded [106.7] 1188785 1200482 forward plasmid=false};
  \node[leaf] (l212) at (247,212) {};
  \node[lbl, right=5pt of l212] (t212) {JOGR01 information Glycomyces sp. taxid 1463821 region TcdA1 expanded [122.9] 1672560 1682211 backward plasmid=false};
  \node[leaf] (l213) at (270,213) {};
  \node[lbl, right=5pt of l213] (t213) {FNAD01 information Glycomyces harbinensis taxid 58114 region TcdA1 expanded [127.6] 704450 714077 backward plasmid=false};
  \node[leaf] (l214) at (268,214) {};
  \node[lbl, right=5pt of l214] (t214) {WIAO01 information Glycomyces albidus taxid 2656774 region TcdA1 expanded [141.4] 3871941 3881559 forward plasmid=false};
  \node[leaf] (l215) at (196,215) {};
  \node[lbl, right=5pt of l215] (t215) {SHKZ01 information Micromonospora sp. taxid 2512146 region TcdA1 expanded [132.8] 5255982 5265213 forward plasmid=false};
  \node[leaf] (l216) at (190,216) {};
  \node[lbl, right=5pt of l216] (t216) {NZ CP041692.1 information Microlunatus sp. taxid 2596828 region TcdA1 expanded [131.2] 1230362 1239884 backward plasmid=false};
  \node[leaf] (l217) at (214,217) {};
  \node[lbl, right=5pt of l217] (t217) {UPHP01 information Mycobacterium attenuatum taxid 2341086 region TcdA1 expanded [108.6] 1793238 1802592 backward plasmid=false};
  \node[leaf] (l218) at (215,218) {};
  \node[lbl, right=5pt of l218] (t218) {NKQZ01 information Mycobacterium persicum taxid 1487726 region TcdA1 expanded [121.4] 4911087 4920672 backward plasmid=false};
  \node[leaf] (l219) at (188,219) {};
  \node[lbl, right=5pt of l219] (t219) {FMYF01 information Raineyella antarctica taxid 1577474 region TcdA1 expanded [114.8] 804035 813887 forward plasmid=false};

  \node[rootdot] (root) at (2,48.5857) {};
  \node[fork] (a1) at (22,1.5) {};
  \node[fork] (b1) at (74,5.5) {};
  \node[fork] (b2) at (55,4.75) {};
  \node[fork] (b3) at (18,3.875) {};
  \node[fork] (c1) at (171,8.5) {};
  \node[fork] (c2) at (146,9.25) {};
  \node[fork] (c3) at (219,12.5) {};
  \node[fork] (c4) at (179,11.75) {};
  \node[fork] (c5) at (148,12.875) {};
  \node[fork] (c6) at (126,11.0625) {};
  \node[fork] (c7) at (211,15.5) {};
  \node[fork] (c8) at (324,21.5) {};
  \node[fork] (c9) at (306,20.75) {};
  \node[fork] (c10) at (287,19.875) {};
  \node[fork] (c11) at (267,18.9375) {};
  \node[fork] (c12) at (278,24.5) {};
  \node[fork] (c13) at (258,23.75) {};
  \node[fork] (c14) at (226,21.3438) {};
  \node[fork] (c15) at (204,19.1719) {};
  \node[fork] (c16) at (174,17.3359) {};
  \node[fork] (c17) at (301,27.5) {};
  \node[fork] (c18) at (280,28.25) {};
  \node[fork] (c19) at (259,29.125) {};
  \node[fork] (c20) at (238,27.5625) {};
  \node[fork] (c21) at (245,31.5) {};
  \node[fork] (c22) at (215,29.5313) {};
  \node[fork] (c23) at (224,33.5) {};
  \node[fork] (c24) at (192,31.5156) {};
  \node[fork] (c25) at (171,33.2578) {};
  \node[fork] (c26) at (151,25.2969) {};
  \node[fork] (c27) at (131,30.6484) {};
  \node[fork] (c28) at (102,20.8555) {};
  \node[fork] (c29) at (80,28.9277) {};
  \node[fork] (c30) at (56,33.4639) {};
  \node[fork] (c31) at (35,20.2319) {};
  \node[fork] (d1) at (216,41.5) {};
  \node[fork] (d2) at (285,43.5) {};
  \node[fork] (d3) at (300,46.5) {};
  \node[fork] (d4) at (279,45.75) {};
  \node[fork] (d5) at (242,44.625) {};
  \node[fork] (d6) at (262,48.5) {};
  \node[fork] (d7) at (215,46.5625) {};
  \node[fork] (d8) at (190,44.0313) {};
  \node[fork] (d9) at (169,42.0156) {};
  \node[fork] (d10) at (145,46.0078) {};
  \node[fork] (e1) at (403,57.5) {};
  \node[fork] (e2) at (383,56.75) {};
  \node[fork] (e3) at (363,57.875) {};
  \node[fork] (e4) at (343,56.4375) {};
  \node[fork] (e5) at (319,55.2188) {};
  \node[fork] (e6) at (294,54.1094) {};
  \node[fork] (e7) at (265,53.0547) {};
  \node[fork] (e8) at (237,52.0273) {};
  \node[fork] (e9) at (317,61.5) {};
  \node[fork] (e10) at (286,60.75) {};
  \node[fork] (e11) at (214,56.3887) {};
  \node[fork] (f1) at (389,65.5) {};
  \node[fork] (f2) at (365,64.75) {};
  \node[fork] (f3) at (456,68.5) {};
  \node[fork] (f4) at (438,69.25) {};
  \node[fork] (f5) at (410,68.125) {};
  \node[fork] (f6) at (362,69.5625) {};
  \node[fork] (f7) at (338,67.1563) {};
  \node[fork] (f8) at (371,72.5) {};
  \node[fork] (f9) at (452,74.5) {};
  \node[fork] (f10) at (485,76.5) {};
  \node[fork] (f11) at (464,77.25) {};
  \node[fork] (f12) at (444,78.125) {};
  \node[fork] (f13) at (412,76.3125) {};
  \node[fork] (f14) at (388,78.1563) {};
  \node[fork] (f15) at (440,81.5) {};
  \node[fork] (f16) at (414,83.5) {};
  \node[fork] (f17) at (388,82.5) {};
  \node[fork] (f18) at (365,80.3281) {};
  \node[fork] (f19) at (340,76.4141) {};
  \node[fork] (f20) at (316,71.7852) {};
  \node[fork] (f21) at (289,78.3926) {};
  \node[fork] (f22) at (408,87.5) {};
  \node[fork] (f23) at (388,86.75) {};
  \node[fork] (f24) at (444,90.5) {};
  \node[fork] (f25) at (401,89.75) {};
  \node[fork] (f26) at (463,92.5) {};
  \node[fork] (f27) at (484,94.5) {};
  \node[fork] (f28) at (535,97.5) {};
  \node[fork] (f29) at (511,96.75) {};
  \node[fork] (f30) at (559,100.5) {};
  \node[fork] (f31) at (552,102.5) {};
  \node[fork] (f32) at (526,101.5) {};
  \node[fork] (f33) at (502,100.25) {};
  \node[fork] (f34) at (476,98.5) {};
  \node[fork] (f35) at (452,96.5) {};
  \node[fork] (f36) at (430,94.5) {};
  \node[fork] (f37) at (488,105.5) {};
  \node[fork] (f38) at (460,104.75) {};
  \node[fork] (f39) at (500,108.5) {};
  \node[fork] (f40) at (500,110.5) {};
  \node[fork] (f41) at (480,109.5) {};
  \node[fork] (f42) at (456,108.25) {};
  \node[fork] (f43) at (415,106.5) {};
  \node[fork] (f44) at (387,100.5) {};
  \node[fork] (f45) at (359,95.125) {};
  \node[fork] (f46) at (476,114.5) {};
  \node[fork] (f47) at (455,113.75) {};
  \node[fork] (f48) at (497,116.5) {};
  \node[fork] (f49) at (498,118.5) {};
  \node[fork] (f50) at (474,117.5) {};
  \node[fork] (f51) at (548,122.5) {};
  \node[fork] (f52) at (528,121.75) {};
  \node[fork] (f53) at (548,124.5) {};
  \node[fork] (f54) at (528,125.25) {};
  \node[fork] (f55) at (507,123.5) {};
  \node[fork] (f56) at (468,121.75) {};
  \node[fork] (f57) at (445,119.625) {};
  \node[fork] (f58) at (423,116.6875) {};
  \node[fork] (f59) at (531,128.5) {};
  \node[fork] (f60) at (536,131.5) {};
  \node[fork] (f61) at (503,130.75) {};
  \node[fork] (f62) at (483,129.625) {};
  \node[fork] (f63) at (458,128.3125) {};
  \node[fork] (f64) at (514,134.5) {};
  \node[fork] (f65) at (485,133.75) {};
  \node[fork] (f66) at (423,131.0313) {};
  \node[fork] (f67) at (400,123.8594) {};
  \node[fork] (f68) at (365,117.9297) {};
  \node[fork] (f69) at (330,106.5273) {};
  \node[fork] (f70) at (295,96.6387) {};
  \node[fork] (f71) at (266,87.5156) {};
  \node[fork] (f72) at (242,75.2578) {};
  \node[fork] (g1) at (370,139.5) {};
  \node[fork] (g2) at (347,138.75) {};
  \node[fork] (g3) at (320,137.875) {};
  \node[fork] (g4) at (397,141.5) {};
  \node[fork] (g5) at (404,143.5) {};
  \node[fork] (g6) at (371,142.5) {};
  \node[fork] (g7) at (350,143.75) {};
  \node[fork] (g8) at (328,144.875) {};
  \node[fork] (g9) at (297,141.375) {};
  \node[fork] (g10) at (271,144.1875) {};
  \node[fork] (g11) at (242,140.0938) {};
  \node[fork] (g12) at (215,107.6758) {};
  \node[fork] (g13) at (189,82.0322) {};
  \node[fork] (h1) at (386,150.5) {};
  \node[fork] (h2) at (357,151.25) {};
  \node[fork] (h3) at (407,154.5) {};
  \node[fork] (h4) at (381,153.75) {};
  \node[fork] (h5) at (418,157.5) {};
  \node[fork] (h6) at (398,156.75) {};
  \node[fork] (h7) at (397,159.5) {};
  \node[fork] (h8) at (369,158.125) {};
  \node[fork] (h9) at (347,155.9375) {};
  \node[fork] (h10) at (324,153.5938) {};
  \node[fork] (h11) at (405,164.5) {};
  \node[fork] (h12) at (384,163.75) {};
  \node[fork] (h13) at (361,162.875) {};
  \node[fork] (h14) at (324,161.9375) {};
  \node[fork] (h15) at (301,157.7656) {};
  \node[fork] (h16) at (337,166.5) {};
  \node[fork] (h17) at (386,169.5) {};
  \node[fork] (h18) at (366,168.75) {};
  \node[fork] (h19) at (364,171.5) {};
  \node[fork] (h20) at (333,170.125) {};
  \node[fork] (h21) at (303,168.3125) {};
  \node[fork] (h22) at (282,163.0391) {};
  \node[fork] (h23) at (260,156.0195) {};
  \node[fork] (h24) at (260,173.5) {};
  \node[fork] (h25) at (238,164.7598) {};
  \node[fork] (h26) at (191,156.3799) {};
  \node[fork] (h27) at (168,119.2061) {};
  \node[fork] (h28) at (204,176) {};
  \node[fork] (h29) at (165,177) {};
  \node[fork] (h30) at (144,148.1030) {};
  \node[fork] (h31) at (122,97.0554) {};
  \node[fork] (h32) at (100,138.0277) {};
  \node[fork] (h33) at (79,88.5139) {};
  \node[fork] (i1) at (145,181.5) {};
  \node[fork] (i2) at (123,180.75) {};
  \node[fork] (i3) at (177,185.5) {};
  \node[fork] (i4) at (148,184.75) {};
  \node[fork] (i5) at (124,183.875) {};
  \node[fork] (i6) at (99,182.3125) {};
  \node[fork] (i7) at (141,188.5) {};
  \node[fork] (i8) at (119,187.75) {};
  \node[fork] (i9) at (178,192.5) {};
  \node[fork] (i10) at (148,191.75) {};
  \node[fork] (i11) at (126,190.875) {};
  \node[fork] (i12) at (97,189.3125) {};
  \node[fork] (i13) at (77,185.8125) {};
  \node[fork] (i14) at (55,137.1632) {};
  \node[fork] (j1) at (217,198) {};
  \node[fork] (j2) at (178,197) {};
  \node[fork] (j3) at (156,196) {};
  \node[fork] (j4) at (187,200.5) {};
  \node[fork] (j5) at (186,202.5) {};
  \node[fork] (j6) at (156,201.5) {};
  \node[fork] (j7) at (134,198.75) {};
  \node[fork] (j8) at (183,205.5) {};
  \node[fork] (j9) at (157,204.75) {};
  \node[fork] (j10) at (170,207.5) {};
  \node[fork] (j11) at (134,206.125) {};
  \node[fork] (j12) at (114,202.4375) {};
  \node[fork] (j13) at (88,198.2188) {};
  \node[fork] (j14) at (246,213.5) {};
  \node[fork] (j15) at (224,212.75) {};
  \node[fork] (j16) at (204,211.875) {};
  \node[fork] (j17) at (163,213.4375) {};
  \node[fork] (j18) at (137,211.7188) {};
  \node[fork] (j19) at (194,217.5) {};
  \node[fork] (j20) at (151,216.75) {};
  \node[fork] (j21) at (128,217.875) {};
  \node[fork] (j22) at (107,214.7969) {};
  \node[fork] (j23) at (86,211.8984) {};
  \node[fork] (j24) at (60,205.0586) {};
  \node[fork] (j25) at (35,171.1109) {};
  \node[fork] (k1) at (14,95.6714) {};

  \draw[br] (root.east) |- (a1.west) (root.east) |- (b3.west) (root.east) |- (k1.west);
  \draw[br] (a1.east) |- (l1.west) (a1.east) |- (l2.west);
  \draw[br] (b1.east) |- (l5.west) (b1.east) |- (l6.west);
  \draw[br] (b2.east) |- (l4.west) (b2.east) |- (b1.west);
  \draw[br] (b3.east) |- (l3.west) (b3.east) |- (b2.west);
  \draw[br] (c1.east) |- (l8.west) (c1.east) |- (l9.west);
  \draw[br] (c2.east) |- (c1.west) (c2.east) |- (l10.west);
  \draw[br] (c3.east) |- (l12.west) (c3.east) |- (l13.west);
  \draw[br] (c4.east) |- (l11.west) (c4.east) |- (c3.west);
  \draw[br] (c5.east) |- (c4.west) (c5.east) |- (l14.west);
  \draw[br] (c6.east) |- (c2.west) (c6.east) |- (c5.west);
  \draw[br] (c7.east) |- (l15.west) (c7.east) |- (l16.west);
  \draw[br] (c8.east) |- (l21.west) (c8.east) |- (l22.west);
  \draw[br] (c9.east) |- (l20.west) (c9.east) |- (c8.west);
  \draw[br] (c10.east) |- (l19.west) (c10.east) |- (c9.west);
  \draw[br] (c11.east) |- (l18.west) (c11.east) |- (c10.west);
  \draw[br] (c12.east) |- (l24.west) (c12.east) |- (l25.west);
  \draw[br] (c13.east) |- (l23.west) (c13.east) |- (c12.west);
  \draw[br] (c14.east) |- (c11.west) (c14.east) |- (c13.west);
  \draw[br] (c15.east) |- (l17.west) (c15.east) |- (c14.west);
  \draw[br] (c16.east) |- (c7.west) (c16.east) |- (c15.west);
  \draw[br] (c17.east) |- (l27.west) (c17.east) |- (l28.west);
  \draw[br] (c18.east) |- (c17.west) (c18.east) |- (l29.west);
  \draw[br] (c19.east) |- (c18.west) (c19.east) |- (l30.west);
  \draw[br] (c20.east) |- (l26.west) (c20.east) |- (c19.west);
  \draw[br] (c21.east) |- (l31.west) (c21.east) |- (l32.west);
  \draw[br] (c22.east) |- (c20.west) (c22.east) |- (c21.west);
  \draw[br] (c23.east) |- (l33.west) (c23.east) |- (l34.west);
  \draw[br] (c24.east) |- (c22.west) (c24.east) |- (c23.west);
  \draw[br] (c25.east) |- (c24.west) (c25.east) |- (l35.west);
  \draw[br] (c26.east) |- (c16.west) (c26.east) |- (c25.west);
  \draw[br] (c27.east) |- (c26.west) (c27.east) |- (l36.west);
  \draw[br] (c28.east) |- (c6.west) (c28.east) |- (c27.west);
  \draw[br] (c29.east) |- (c28.west) (c29.east) |- (l37.west);
  \draw[br] (c30.east) |- (c29.west) (c30.east) |- (l38.west);
  \draw[br] (c31.east) |- (l7.west) (c31.east) |- (c30.west);
  \draw[br] (d1.east) |- (l41.west) (d1.east) |- (l42.west);
  \draw[br] (d2.east) |- (l43.west) (d2.east) |- (l44.west);
  \draw[br] (d3.east) |- (l46.west) (d3.east) |- (l47.west);
  \draw[br] (d4.east) |- (l45.west) (d4.east) |- (d3.west);
  \draw[br] (d5.east) |- (d2.west) (d5.east) |- (d4.west);
  \draw[br] (d6.east) |- (l48.west) (d6.east) |- (l49.west);
  \draw[br] (d7.east) |- (d5.west) (d7.east) |- (d6.west);
  \draw[br] (d8.east) |- (d1.west) (d8.east) |- (d7.west);
  \draw[br] (d9.east) |- (l40.west) (d9.east) |- (d8.west);
  \draw[br] (d10.east) |- (d9.west) (d10.east) |- (l50.west);
  \draw[br] (e1.east) |- (l57.west) (e1.east) |- (l58.west);
  \draw[br] (e2.east) |- (l56.west) (e2.east) |- (e1.west);
  \draw[br] (e3.east) |- (e2.west) (e3.east) |- (l59.west);
  \draw[br] (e4.east) |- (l55.west) (e4.east) |- (e3.west);
  \draw[br] (e5.east) |- (l54.west) (e5.east) |- (e4.west);
  \draw[br] (e6.east) |- (l53.west) (e6.east) |- (e5.west);
  \draw[br] (e7.east) |- (l52.west) (e7.east) |- (e6.west);
  \draw[br] (e8.east) |- (l51.west) (e8.east) |- (e7.west);
  \draw[br] (e9.east) |- (l61.west) (e9.east) |- (l62.west);
  \draw[br] (e10.east) |- (l60.west) (e10.east) |- (e9.west);
  \draw[br] (e11.east) |- (e8.west) (e11.east) |- (e10.west);
  \draw[br] (f1.east) |- (l65.west) (f1.east) |- (l66.west);
  \draw[br] (f2.east) |- (l64.west) (f2.east) |- (f1.west);
  \draw[br] (f3.east) |- (l68.west) (f3.east) |- (l69.west);
  \draw[br] (f4.east) |- (f3.west) (f4.east) |- (l70.west);
  \draw[br] (f5.east) |- (l67.west) (f5.east) |- (f4.west);
  \draw[br] (f6.east) |- (f5.west) (f6.east) |- (l71.west);
  \draw[br] (f7.east) |- (f2.west) (f7.east) |- (f6.west);
  \draw[br] (f8.east) |- (l72.west) (f8.east) |- (l73.west);
  \draw[br] (f9.east) |- (l74.west) (f9.east) |- (l75.west);
  \draw[br] (f10.east) |- (l76.west) (f10.east) |- (l77.west);
  \draw[br] (f11.east) |- (f10.west) (f11.east) |- (l78.west);
  \draw[br] (f12.east) |- (f11.west) (f12.east) |- (l79.west);
  \draw[br] (f13.east) |- (f9.west) (f13.east) |- (f12.west);
  \draw[br] (f14.east) |- (f13.west) (f14.east) |- (l80.west);
  \draw[br] (f15.east) |- (l81.west) (f15.east) |- (l82.west);
  \draw[br] (f16.east) |- (l83.west) (f16.east) |- (l84.west);
  \draw[br] (f17.east) |- (f15.west) (f17.east) |- (f16.west);
  \draw[br] (f18.east) |- (f14.west) (f18.east) |- (f17.west);
  \draw[br] (f19.east) |- (f8.west) (f19.east) |- (f18.west);
  \draw[br] (f20.east) |- (f7.west) (f20.east) |- (f19.west);
  \draw[br] (f21.east) |- (f20.west) (f21.east) |- (l85.west);
  \draw[br] (f22.east) |- (l87.west) (f22.east) |- (l88.west);
  \draw[br] (f23.east) |- (l86.west) (f23.east) |- (f22.west);
  \draw[br] (f24.east) |- (l90.west) (f24.east) |- (l91.west);
  \draw[br] (f25.east) |- (l89.west) (f25.east) |- (f24.west);
  \draw[br] (f26.east) |- (l92.west) (f26.east) |- (l93.west);
  \draw[br] (f27.east) |- (l94.west) (f27.east) |- (l95.west);
  \draw[br] (f28.east) |- (l97.west) (f28.east) |- (l98.west);
  \draw[br] (f29.east) |- (l96.west) (f29.east) |- (f28.west);
  \draw[br] (f30.east) |- (l100.west) (f30.east) |- (l101.west);
  \draw[br] (f31.east) |- (l102.west) (f31.east) |- (l103.west);
  \draw[br] (f32.east) |- (f30.west) (f32.east) |- (f31.west);
  \draw[br] (f33.east) |- (l99.west) (f33.east) |- (f32.west);
  \draw[br] (f34.east) |- (f29.west) (f34.east) |- (f33.west);
  \draw[br] (f35.east) |- (f27.west) (f35.east) |- (f34.west);
  \draw[br] (f36.east) |- (f26.west) (f36.east) |- (f35.west);
  \draw[br] (f37.east) |- (l105.west) (f37.east) |- (l106.west);
  \draw[br] (f38.east) |- (l104.west) (f38.east) |- (f37.west);
  \draw[br] (f39.east) |- (l108.west) (f39.east) |- (l109.west);
  \draw[br] (f40.east) |- (l110.west) (f40.east) |- (l111.west);
  \draw[br] (f41.east) |- (f39.west) (f41.east) |- (f40.west);
  \draw[br] (f42.east) |- (l107.west) (f42.east) |- (f41.west);
  \draw[br] (f43.east) |- (f38.west) (f43.east) |- (f42.west);
  \draw[br] (f44.east) |- (f36.west) (f44.east) |- (f43.west);
  \draw[br] (f45.east) |- (f25.west) (f45.east) |- (f44.west);
  \draw[br] (f46.east) |- (l114.west) (f46.east) |- (l115.west);
  \draw[br] (f47.east) |- (l113.west) (f47.east) |- (f46.west);
  \draw[br] (f48.east) |- (l116.west) (f48.east) |- (l117.west);
  \draw[br] (f49.east) |- (l118.west) (f49.east) |- (l119.west);
  \draw[br] (f50.east) |- (f48.west) (f50.east) |- (f49.west);
  \draw[br] (f51.east) |- (l122.west) (f51.east) |- (l123.west);
  \draw[br] (f52.east) |- (l121.west) (f52.east) |- (f51.west);
  \draw[br] (f53.east) |- (l124.west) (f53.east) |- (l125.west);
  \draw[br] (f54.east) |- (f53.west) (f54.east) |- (l126.west);
  \draw[br] (f55.east) |- (f52.west) (f55.east) |- (f54.west);
  \draw[br] (f56.east) |- (l120.west) (f56.east) |- (f55.west);
  \draw[br] (f57.east) |- (f50.west) (f57.east) |- (f56.west);
  \draw[br] (f58.east) |- (f47.west) (f58.east) |- (f57.west);
  \draw[br] (f59.east) |- (l128.west) (f59.east) |- (l129.west);
  \draw[br] (f60.east) |- (l131.west) (f60.east) |- (l132.west);
  \draw[br] (f61.east) |- (l130.west) (f61.east) |- (f60.west);
  \draw[br] (f62.east) |- (f59.west) (f62.east) |- (f61.west);
  \draw[br] (f63.east) |- (l127.west) (f63.east) |- (f62.west);
  \draw[br] (f64.east) |- (l134.west) (f64.east) |- (l135.west);
  \draw[br] (f65.east) |- (l133.west) (f65.east) |- (f64.west);
  \draw[br] (f66.east) |- (f63.west) (f66.east) |- (f65.west);
  \draw[br] (f67.east) |- (f58.west) (f67.east) |- (f66.west);
  \draw[br] (f68.east) |- (l112.west) (f68.east) |- (f67.west);
  \draw[br] (f69.east) |- (f45.west) (f69.east) |- (f68.west);
  \draw[br] (f70.east) |- (f23.west) (f70.east) |- (f69.west);
  \draw[br] (f71.east) |- (f21.west) (f71.east) |- (f70.west);
  \draw[br] (f72.east) |- (l63.west) (f72.east) |- (f71.west);
  \draw[br] (g1.east) |- (l139.west) (g1.east) |- (l140.west);
  \draw[br] (g2.east) |- (l138.west) (g2.east) |- (g1.west);
  \draw[br] (g3.east) |- (l137.west) (g3.east) |- (g2.west);
  \draw[br] (g4.east) |- (l141.west) (g4.east) |- (l142.west);
  \draw[br] (g5.east) |- (l143.west) (g5.east) |- (l144.west);
  \draw[br] (g6.east) |- (g4.west) (g6.east) |- (g5.west);
  \draw[br] (g7.east) |- (g6.west) (g7.east) |- (l145.west);
  \draw[br] (g8.east) |- (g7.west) (g8.east) |- (l146.west);
  \draw[br] (g9.east) |- (g3.west) (g9.east) |- (g8.west);
  \draw[br] (g10.east) |- (g9.west) (g10.east) |- (l147.west);
  \draw[br] (g11.east) |- (l136.west) (g11.east) |- (g10.west);
  \draw[br] (g12.east) |- (f72.west) (g12.east) |- (g11.west);
  \draw[br] (g13.east) |- (e11.west) (g13.east) |- (g12.west);
  \draw[br] (h1.east) |- (l150.west) (h1.east) |- (l151.west);
  \draw[br] (h2.east) |- (h1.west) (h2.east) |- (l152.west);
  \draw[br] (h3.east) |- (l154.west) (h3.east) |- (l155.west);
  \draw[br] (h4.east) |- (l153.west) (h4.east) |- (h3.west);
  \draw[br] (h5.east) |- (l157.west) (h5.east) |- (l158.west);
  \draw[br] (h6.east) |- (l156.west) (h6.east) |- (h5.west);
  \draw[br] (h7.east) |- (l159.west) (h7.east) |- (l160.west);
  \draw[br] (h8.east) |- (h6.west) (h8.east) |- (h7.west);
  \draw[br] (h9.east) |- (h4.west) (h9.east) |- (h8.west);
  \draw[br] (h10.east) |- (h2.west) (h10.east) |- (h9.west);
  \draw[br] (h11.east) |- (l164.west) (h11.east) |- (l165.west);
  \draw[br] (h12.east) |- (l163.west) (h12.east) |- (h11.west);
  \draw[br] (h13.east) |- (l162.west) (h13.east) |- (h12.west);
  \draw[br] (h14.east) |- (l161.west) (h14.east) |- (h13.west);
  \draw[br] (h15.east) |- (h10.west) (h15.east) |- (h14.west);
  \draw[br] (h16.east) |- (l166.west) (h16.east) |- (l167.west);
  \draw[br] (h17.east) |- (l169.west) (h17.east) |- (l170.west);
  \draw[br] (h18.east) |- (l168.west) (h18.east) |- (h17.west);
  \draw[br] (h19.east) |- (l171.west) (h19.east) |- (l172.west);
  \draw[br] (h20.east) |- (h18.west) (h20.east) |- (h19.west);
  \draw[br] (h21.east) |- (h16.west) (h21.east) |- (h20.west);
  \draw[br] (h22.east) |- (h15.west) (h22.east) |- (h21.west);
  \draw[br] (h23.east) |- (l149.west) (h23.east) |- (h22.west);
  \draw[br] (h24.east) |- (l173.west) (h24.east) |- (l174.west);
  \draw[br] (h25.east) |- (h23.west) (h25.east) |- (h24.west);
  \draw[br] (h26.east) |- (l148.west) (h26.east) |- (h25.west);
  \draw[br] (h27.east) |- (g13.west) (h27.east) |- (h26.west);
  \draw[br] (h28.east) |- (l175.west) (h28.east) |- (l176.west) (h28.east) |- (l177.west);
  \draw[br] (h29.east) |- (h28.west) (h29.east) |- (l178.west);
  \draw[br] (h30.east) |- (h27.west) (h30.east) |- (h29.west);
  \draw[br] (h31.east) |- (d10.west) (h31.east) |- (h30.west);
  \draw[br] (h32.east) |- (h31.west) (h32.east) |- (l179.west);
  \draw[br] (h33.east) |- (l39.west) (h33.east) |- (h32.west);
  \draw[br] (i1.east) |- (l181.west) (i1.east) |- (l182.west);
  \draw[br] (i2.east) |- (l180.west) (i2.east) |- (i1.west);
  \draw[br] (i3.east) |- (l185.west) (i3.east) |- (l186.west);
  \draw[br] (i4.east) |- (l184.west) (i4.east) |- (i3.west);
  \draw[br] (i5.east) |- (l183.west) (i5.east) |- (i4.west);
  \draw[br] (i6.east) |- (i2.west) (i6.east) |- (i5.west);
  \draw[br] (i7.east) |- (l188.west) (i7.east) |- (l189.west);
  \draw[br] (i8.east) |- (l187.west) (i8.east) |- (i7.west);
  \draw[br] (i9.east) |- (l192.west) (i9.east) |- (l193.west);
  \draw[br] (i10.east) |- (l191.west) (i10.east) |- (i9.west);
  \draw[br] (i11.east) |- (l190.west) (i11.east) |- (i10.west);
  \draw[br] (i12.east) |- (i8.west) (i12.east) |- (i11.west);
  \draw[br] (i13.east) |- (i6.west) (i13.east) |- (i12.west);
  \draw[br] (i14.east) |- (h33.west) (i14.east) |- (i13.west);
  \draw[br] (j1.east) |- (l197.west) (j1.east) |- (l198.west) (j1.east) |- (l199.west);
  \draw[br] (j2.east) |- (l196.west) (j2.east) |- (j1.west);
  \draw[br] (j3.east) |- (l195.west) (j3.east) |- (j2.west);
  \draw[br] (j4.east) |- (l200.west) (j4.east) |- (l201.west);
  \draw[br] (j5.east) |- (l202.west) (j5.east) |- (l203.west);
  \draw[br] (j6.east) |- (j4.west) (j6.east) |- (j5.west);
  \draw[br] (j7.east) |- (j3.west) (j7.east) |- (j6.west);
  \draw[br] (j8.east) |- (l205.west) (j8.east) |- (l206.west);
  \draw[br] (j9.east) |- (l204.west) (j9.east) |- (j8.west);
  \draw[br] (j10.east) |- (l207.west) (j10.east) |- (l208.west);
  \draw[br] (j11.east) |- (j9.west) (j11.east) |- (j10.west);
  \draw[br] (j12.east) |- (j7.west) (j12.east) |- (j11.west);
  \draw[br] (j13.east) |- (l194.west) (j13.east) |- (j12.west);
  \draw[br] (j14.east) |- (l213.west) (j14.east) |- (l214.west);
  \draw[br] (j15.east) |- (l212.west) (j15.east) |- (j14.west);
  \draw[br] (j16.east) |- (l211.west) (j16.east) |- (j15.west);
  \draw[br] (j17.east) |- (j16.west) (j17.east) |- (l215.west);
  \draw[br] (j18.east) |- (l210.west) (j18.east) |- (j17.west);
  \draw[br] (j19.east) |- (l217.west) (j19.east) |- (l218.west);
  \draw[br] (j20.east) |- (l216.west) (j20.east) |- (j19.west);
  \draw[br] (j21.east) |- (j20.west) (j21.east) |- (l219.west);
  \draw[br] (j22.east) |- (j18.west) (j22.east) |- (j21.west);
  \draw[br] (j23.east) |- (l209.west) (j23.east) |- (j22.west);
  \draw[br] (j24.east) |- (j13.west) (j24.east) |- (j23.west);
  \draw[br] (j25.east) |- (i14.west) (j25.east) |- (j24.west);
  \draw[br] (k1.east) |- (c31.west) (k1.east) |- (j25.west);

  \coordinate (sb1) at (1,219.6466);
  \coordinate (sb2) at (48,219.6466);
  \draw[br] (sb1) -- (sb2);
  \draw[br] ([yshift=2pt]sb1) -- ([yshift=-2pt]sb1);
  \draw[br] ([yshift=2pt]sb2) -- ([yshift=-2pt]sb2);
  \node[scl, anchor=west] (sbt) at (0,220.02) {0.740467};
\end{tikzpicture}
\end{document}
